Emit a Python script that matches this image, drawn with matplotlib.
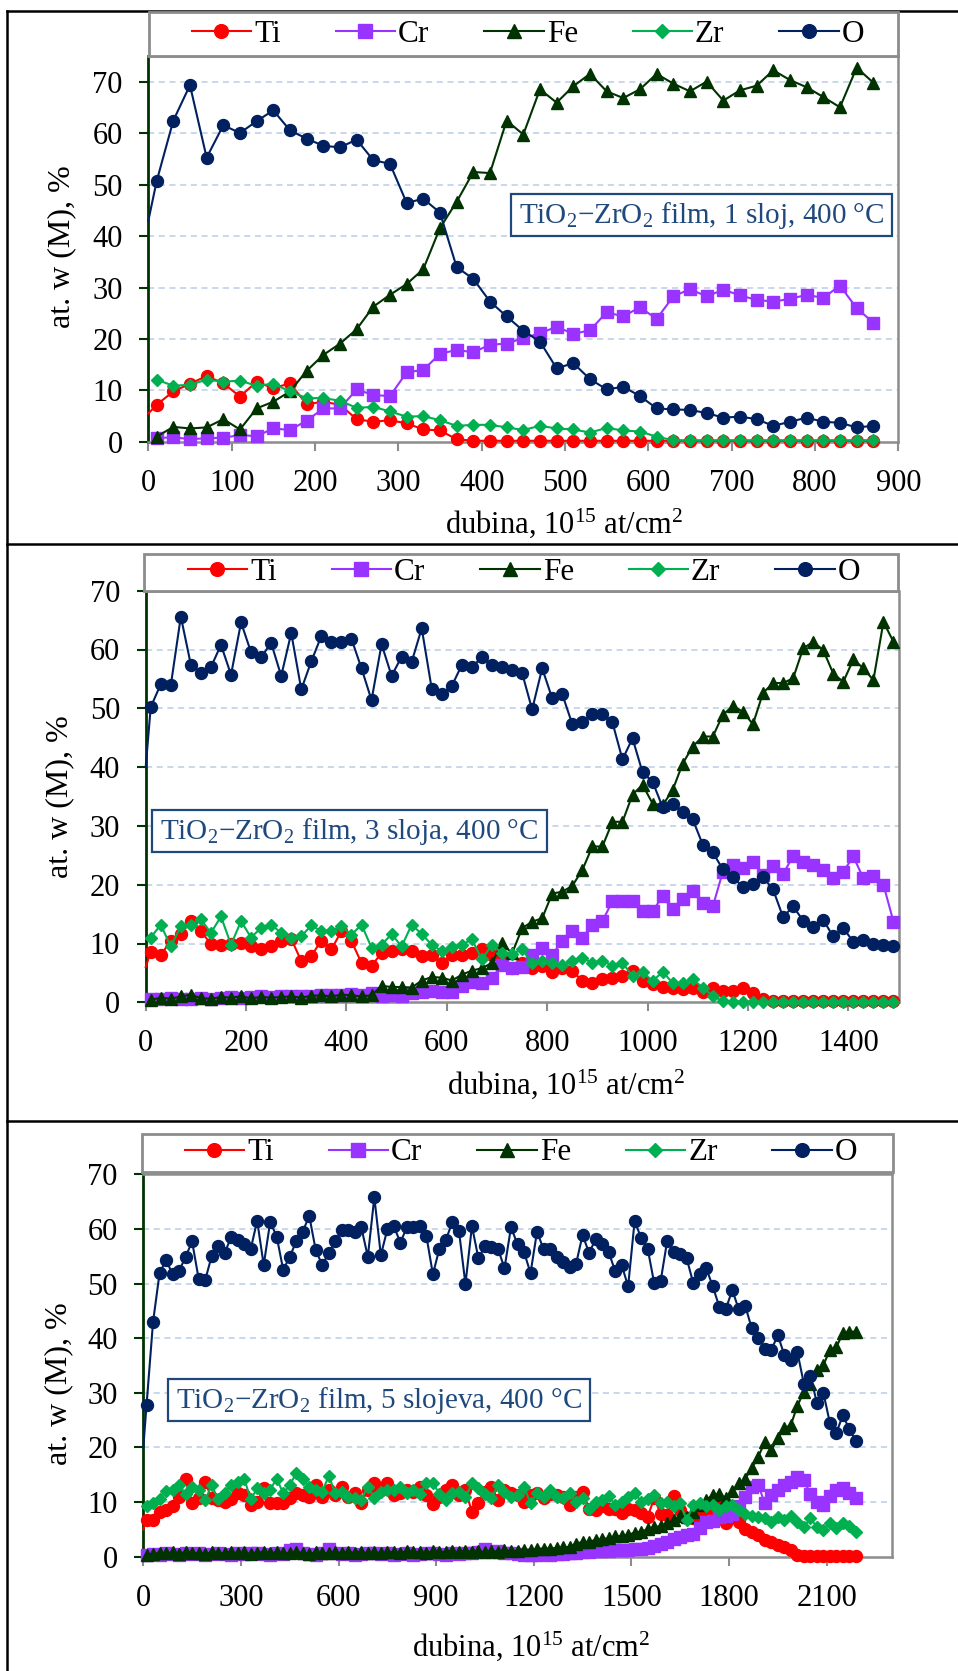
import numpy as np
import matplotlib
matplotlib.use("Agg")
import matplotlib.pyplot as plt
from matplotlib.patches import Rectangle
from matplotlib.lines import Line2D

nan = np.nan

# ---------------------------------------------------------------- data
# depth grid, 10^15 at/cm^2 (surface point at 0)
depth = [0, 10, 30, 50, 70, 90, 110, 130, 150, 170, 190, 210, 230, 250, 270, 290,
         310, 330, 350, 370, 390, 410, 430, 450, 470, 490, 510, 530, 550, 570, 590,
         610, 630, 650, 670, 690, 710, 730, 750, 770, 790, 810, 830, 850, 870, 890,
         910, 930, 950, 970, 990, 1010, 1030, 1050, 1070, 1090, 1110, 1130, 1150,
         1170, 1190, 1210, 1230, 1250, 1270, 1290, 1310, 1330, 1350, 1370, 1390,
         1410, 1430, 1450, 1470, 1490, 1510, 1530, 1550, 1570, 1590, 1610, 1630,
         1650, 1670, 1690, 1710, 1730, 1750, 1770, 1790, 1810, 1830, 1850, 1870,
         1890, 1910, 1930, 1950, 1970, 1990, 2010, 2030, 2050, 2070, 2090, 2110,
         2130, 2150, 2170, 2190]

# --- film, 1 layer
depth_1 = depth[:45]
ti_1 = [5.5, 7.2, 9.8, 11.3, 12.8, 11.4, 8.8, 11.7, 10.4, 11.4, 7.3, 7.8, 7.2, 4.4,
        3.9, 4.2, 3.6, 2.4, 2.2, 0.5, 0.2, 0.2, 0.2, 0.2, 0.2, 0.2, 0.2, 0.2, 0.2,
        0.2, 0.2, 0.2, 0.2, 0.2, 0.2, 0.2, 0.2, 0.2, 0.2, 0.2, 0.2, 0.2, 0.2, 0.2, 0.2]
cr_1 = [nan, 0.7, 0.9, 0.5, 0.7, 0.8, 1.3, 1.1, 2.6, 2.3, 4.1, 6.5, 6.5, 10.2, 9.1,
        8.9, 13.5, 14.0, 17.1, 17.9, 17.4, 18.9, 19.1, 20.2, 21.1, 22.4, 21.0, 21.7,
        25.2, 24.4, 26.2, 23.9, 28.3, 29.7, 28.3, 29.6, 28.5, 27.6, 27.3, 27.8, 28.6,
        28.0, 30.4, 26.0, 23.2]
fe_1 = [nan, 1.0, 2.9, 2.6, 2.8, 4.4, 2.4, 6.5, 7.8, 9.8, 13.8, 16.9, 19.1, 21.9,
        26.3, 28.6, 30.7, 33.6, 41.6, 46.7, 52.5, 52.3, 62.5, 59.8, 68.6, 66.0, 69.2,
        71.6, 68.2, 66.9, 68.6, 71.6, 69.7, 68.2, 70.1, 66.4, 68.4, 69.3, 72.3, 70.4,
        69.0, 67.1, 65.1, 72.8, 69.9]
zr_1 = [nan, 12.1, 10.9, 11.1, 12.1, 11.7, 11.9, 10.9, 11.3, 9.8, 8.5, 8.5, 8.0, 6.6,
        6.8, 5.9, 4.9, 5.0, 4.2, 3.1, 3.3, 3.3, 2.8, 2.3, 3.1, 2.6, 2.4, 1.8, 2.7, 2.2,
        2.0, 1.0, 0.3, 0.3, 0.3, 0.3, 0.3, 0.3, 0.3, 0.3, 0.3, 0.3, 0.3, 0.3, 0.3]
o_1 = [43.0, 50.7, 62.5, 69.4, 55.3, 61.6, 60.1, 62.4, 64.5, 60.6, 59.0, 57.6, 57.3,
       58.8, 54.8, 54.1, 46.5, 47.3, 44.6, 34.0, 31.7, 27.3, 24.4, 21.6, 19.5, 14.3,
       15.3, 12.2, 10.2, 10.7, 8.9, 6.5, 6.3, 6.2, 5.6, 4.7, 4.9, 4.4, 3.1, 3.9, 4.7,
       3.9, 3.7, 2.8, 3.1]

# --- film, 3 layers
depth_2 = depth[:76]
ti_2 = [6.0, 8.6, 8.0, 10.5, 11.6, 13.8, 12.1, 9.9, 9.8, 9.9, 10.1, 9.5, 9.0, 9.5,
        10.4, 10.8, 7.0, 7.9, 10.5, 9.0, 12.1, 10.4, 6.7, 6.2, 8.4, 8.8, 9.0, 8.7,
        7.9, 8.1, 6.7, 8.0, 8.0, 8.4, 9.0, 8.1, 7.3, 5.8, 6.7, 5.8, 6.2, 5.2, 5.8,
        5.3, 3.7, 3.3, 3.9, 4.2, 4.5, 5.4, 3.6, 3.1, 2.6, 2.4, 2.2, 2.4, 1.8, 2.4,
        1.9, 1.9, 2.5, 1.6, 0.5, 0.2, 0.2, 0.2, 0.2, 0.2, 0.2, 0.2, 0.2, 0.2, 0.2,
        0.2, 0.2, 0.2]
cr_2 = [nan, 0.6, 0.5, 0.7, 0.6, 0.5, 0.8, 0.6, 0.7, 0.9, 0.8, 0.9, 1.0, 0.9, 1.0,
        1.1, 1.0, 1.1, 1.2, 1.3, 1.2, 1.4, 1.3, 1.5, 1.0, 1.2, 1.0, 1.5, 1.8, 2.0,
        1.7, 1.8, 2.8, 3.4, 3.3, 4.2, 6.3, 5.8, 6.0, 8.1, 9.3, 8.1, 10.4, 12.1, 11.0,
        13.2, 13.8, 17.2, 17.2, 17.2, 15.5, 15.5, 18.0, 15.8, 17.5, 18.9, 16.9, 16.3,
        22.2, 23.4, 22.8, 23.9, 21.7, 23.2, 21.8, 24.9, 23.8, 23.4, 22.5, 21.1, 22.2,
        24.8, 21.1, 21.4, 20.0, 13.7]
fe_2 = [nan, 0.4, 0.8, 0.6, 1.0, 1.3, 0.7, 0.6, 0.9, 0.8, 1.0, 0.7, 0.9, 0.8, 0.9,
        1.0, 0.8, 1.1, 1.2, 1.0, 1.3, 1.2, 1.0, 1.2, 2.8, 2.6, 2.6, 2.5, 3.7, 4.3,
        4.2, 3.7, 4.7, 5.4, 5.8, 6.7, 10.1, 8.3, 12.6, 13.7, 14.3, 18.5, 18.8, 19.8,
        22.5, 26.5, 26.5, 30.7, 30.7, 35.3, 37.0, 33.8, 33.5, 36.1, 40.6, 43.5, 45.2,
        45.2, 48.9, 50.4, 49.4, 47.3, 52.6, 54.3, 54.3, 55.1, 60.2, 61.3, 59.9, 55.9,
        54.5, 58.3, 56.8, 54.8, 64.7, 61.3]
zr_2 = [nan, 11.0, 13.2, 9.5, 12.9, 13.2, 14.1, 11.8, 14.6, 9.8, 13.8, 11.0, 12.7,
        13.2, 11.8, 11.0, 11.2, 13.1, 12.1, 12.2, 12.9, 11.5, 13.2, 9.3, 9.8, 11.6,
        9.5, 13.2, 11.6, 9.8, 8.7, 9.4, 9.8, 10.7, 7.3, 9.8, 8.4, 8.2, 9.0, 6.7, 7.1,
        6.6, 6.4, 7.1, 7.6, 6.7, 7.1, 6.2, 6.7, 4.5, 5.2, 3.6, 5.2, 3.3, 3.2, 3.9,
        2.5, 1.1, 0.2, 0.1, 0.1, 0.1, 0.1, 0.1, 0.1, 0.1, 0.1, 0.1, 0.1, 0.1, 0.1,
        0.1, 0.1, 0.1, 0.1, 0.1]
o_2 = [40.0, 50.2, 54.1, 53.9, 65.6, 57.4, 56.0, 57.0, 60.8, 55.7, 64.6, 59.5, 58.7,
       61.1, 55.5, 62.8, 53.2, 58.0, 62.3, 61.3, 61.3, 61.8, 56.8, 51.4, 60.9, 55.5,
       58.8, 57.9, 63.6, 53.3, 52.4, 53.8, 57.4, 57.0, 58.7, 57.3, 57.0, 56.5, 56.0,
       49.8, 56.8, 51.7, 52.4, 47.3, 47.7, 49.0, 49.0, 47.6, 41.3, 44.9, 39.1, 37.5,
       33.2, 33.8, 32.4, 31.1, 26.8, 25.5, 22.6, 21.3, 19.6, 20.2, 21.3, 19.2, 14.5,
       16.3, 13.9, 12.8, 14.0, 11.2, 12.6, 10.3, 10.6, 9.9, 9.8, 9.5]

# --- film, 5 layers
depth_3 = depth
ti_3 = [5.0,
        6.7, 6.8, 8.2, 8.5, 9.3, 11.0, 14.2, 9.9, 10.7, 13.7,
        10.7, 10.4, 10.1, 10.5, 11.7, 11.3, 9.5, 10.1, 12.5, 9.8,
        9.9, 9.8, 10.7, 11.6, 11.3, 11.0, 13.1, 10.9, 12.2, 11.3,
        12.8, 11.0, 11.6, 9.9, 12.3, 13.4, 12.2, 13.5, 11.3, 11.6,
        12.3, 11.9, 12.8, 11.3, 9.6, 11.0, 12.2, 13.1, 11.3, 12.2,
        8.2, 9.8, 11.9, 12.8, 10.4, 12.3, 11.6, 11.3,
        10.1, 11.3, 11.6, 10.7, 11.5, 11.3, 10.9, 9.5, 11.0, 11.9,
        8.8, 8.5, 9.2, 8.8, 8.8, 8.0, 8.8, 8.5, 8.0, 7.3,
        10.7, 7.9, 7.6, 11.1, 8.5, 7.0, 7.0, 7.6, 7.3, 8.8,
        9.2, 6.1, 7.6, 6.4, 5.0, 4.6, 4.0, 3.1, 2.7, 2.1,
        1.7, 1.2, 0.3, 0.1, 0.1, 0.1, 0.1, 0.1, 0.1, 0.1, 0.1, 0.1]
cr_3 = [nan,
        0.3, 0.5, 0.4, 0.6, 0.5, 0.4, 0.7, 0.5, 0.6, 0.4,
        0.5, 0.6, 0.5, 0.4, 0.6, 0.5, 0.7, 0.6, 0.5, 0.4,
        0.6, 0.5, 1.3, 1.4, 0.6, 0.5, 0.4, 0.6, 1.5, 0.7,
        0.5, 0.6, 0.4, 0.5, 0.7, 0.6, 0.5, 0.6, 0.4, 0.5,
        0.6, 0.4, 0.5, 0.7, 0.6, 0.5, 0.4, 0.6, 0.5, 0.7,
        0.6, 0.8, 1.4, 0.9, 1.0, 0.7, 0.6, 0.5,
        0.3, 0.4, 0.3, 0.5, 0.4, 0.5, 0.5, 0.6, 0.7, 0.8,
        0.9, 1.0, 1.0, 1.1, 1.2, 1.3, 1.3, 1.4, 1.5, 1.6,
        2.0, 2.4, 2.7, 3.3, 3.6, 4.0, 4.2, 5.2, 6.3, 6.6,
        7.3, 7.4, 7.9, 9.2, 11.0, 12.8, 13.1, 9.8, 11.3, 12.2,
        13.1, 13.7, 14.6, 14.0, 11.5, 10.1, 9.5, 11.2, 12.2, 12.6,
        11.6, 10.7]
fe_3 = [nan,
        0.3, 0.5, 0.7, 0.6, 0.8, 0.5, 0.9, 0.6, 0.7, 0.5,
        0.8, 0.6, 0.7, 0.9, 0.6, 0.8, 0.5, 0.7, 0.9, 0.6,
        0.8, 0.7, 0.6, 0.9, 0.7, 0.5, 0.8, 0.6, 0.7, 0.9,
        0.6, 0.8, 0.7, 0.9, 0.6, 0.8, 0.7, 0.9, 0.8, 0.7,
        1.0, 0.8, 0.9, 0.7, 1.0, 0.8, 0.9, 1.0, 0.8, 1.1,
        0.9, 1.0, 0.8, 1.1, 0.9, 1.2, 1.0, 1.1,
        1.2, 1.3, 1.4, 1.5, 1.5, 1.6, 1.7, 1.8, 2.4, 2.7,
        2.7, 3.1, 3.2, 3.4, 3.7, 3.8, 4.0, 4.4, 4.6, 5.0,
        5.4, 5.6, 6.1, 6.7, 7.4, 7.2, 8.2, 9.5, 10.4, 11.3,
        11.5, 10.7, 12.1, 13.4, 14.3, 16.2, 18.3, 21.0, 19.5, 21.7,
        23.5, 24.1, 27.6, 30.2, 31.7, 34.2, 35.1, 37.8, 38.4, 40.9,
        41.2, 41.2]
zr_3 = [nan,
        9.2, 9.8, 10.5, 12.1, 12.2, 13.1, 11.5, 12.8, 12.2, 10.3,
        13.1, 10.5, 11.7, 13.1, 13.7, 14.3, 10.5, 12.5, 11.6, 12.3,
        14.3, 11.6, 13.1, 15.3, 14.2, 12.8, 12.2, 11.9, 14.8, 11.6,
        11.9, 11.0, 10.7, 10.4, 12.8, 10.7, 11.9, 12.2, 12.2, 12.8,
        11.6, 12.3, 11.5, 13.4, 13.5, 11.5, 10.3, 11.6, 11.9, 10.9,
        13.4, 12.5, 11.5, 10.7, 13.1, 11.9, 10.9, 11.3,
        12.8, 9.8, 11.6, 11.0, 12.3, 11.0, 10.7, 11.6, 10.1, 10.7,
        8.8, 10.1, 10.4, 11.1, 9.5, 10.1, 10.9, 11.7, 10.1, 10.5,
        11.3, 9.8, 10.1, 9.2, 9.8, 6.7, 9.5, 9.8, 9.2, 9.5,
        8.5, 9.2, 9.5, 8.5, 7.8, 7.4, 7.3, 7.0, 6.4, 7.3,
        6.7, 7.4, 6.4, 5.4, 7.0, 5.5, 4.8, 6.2, 5.2, 6.1,
        5.6, 4.6]
o_3 = [20.0,
       27.8, 43.0, 51.9, 54.3, 51.7, 52.3, 54.9, 57.7, 50.9, 50.6,
       55.0, 56.9, 55.6, 58.5, 58.0, 57.2, 56.3, 61.5, 53.4, 61.3,
       58.6, 52.5, 54.9, 57.7, 59.5, 62.4, 56.1, 53.4, 55.6, 57.7,
       59.8, 59.8, 59.5, 60.3, 54.9, 65.8, 55.2, 59.9, 60.5, 57.5,
       60.3, 60.3, 60.5, 58.7, 51.7, 56.4, 58.0, 61.3, 59.7, 49.9,
       60.5, 54.6, 56.9, 56.7, 56.4, 52.8, 60.3, 57.2,
       55.8, 51.9, 59.5, 56.3, 56.4, 54.8, 54.0, 53.0, 53.6, 58.9,
       55.6, 58.1, 57.2, 55.8, 52.3, 53.4, 49.5, 61.5, 58.3, 56.4,
       50.1, 50.5, 57.8, 55.8, 55.5, 54.6, 50.1, 51.7, 52.8, 49.5,
       45.8, 45.3, 48.8, 45.3, 45.9, 41.8, 40.0, 38.1, 37.8, 40.6,
       36.9, 36.0, 37.5, 31.7, 33.1, 28.2, 30.0, 24.5, 22.7, 25.9,
       23.3, 21.2]

elements = ["Ti", "Cr", "Fe", "Zr", "O"]
film_labels = ["TiO$_\\mathregular{2}$\u2212ZrO$_\\mathregular{2}$ film, 1 sloj, 400 °C",
               "TiO$_\\mathregular{2}$\u2212ZrO$_\\mathregular{2}$ film, 3 sloja, 400 °C",
               "TiO$_\\mathregular{2}$\u2212ZrO$_\\mathregular{2}$ film, 5 slojeva, 400 °C"]
x_ticks_1 = [0, 100, 200, 300, 400, 500, 600, 700, 800, 900]
x_ticks_2 = [0, 200, 400, 600, 800, 1000, 1200, 1400]
x_ticks_3 = [0, 300, 600, 900, 1200, 1500, 1800, 2100]
y_ticks = [0, 10, 20, 30, 40, 50, 60, 70]

# ---------------------------------------------------------------- style
W, H, DPI = 958, 1671, 100
plt.rcParams['font.family'] = ['Liberation Serif', 'DejaVu Serif']
plt.rcParams['mathtext.fontset'] = 'custom'
plt.rcParams['mathtext.rm'] = 'Liberation Serif'
plt.rcParams['mathtext.it'] = 'Liberation Serif:italic'
plt.rcParams['axes.unicode_minus'] = False

FS = 22            # tick labels and axis titles
FS_LEG = 22.5      # legend entries
FS_BOX = 21        # film description
TEXT_BLUE = '#1F497D'
GRID = '#B9CDE5'
FRAME_GRAY = '#8C8C8C'
STYLES = {
    "Ti": dict(color='#FF0000', marker='o', ms=8.6),
    "Cr": dict(color='#9933FF', marker='s', ms=8.4),
    "Fe": dict(color='#003300', marker='^', ms=9.0),
    "Zr": dict(color='#00B050', marker='D', ms=6.4),
    "O":  dict(color='#002060', marker='o', ms=8.6),
}

fig = plt.figure(figsize=(W / DPI, H / DPI), dpi=DPI)
fig.patch.set_facecolor('white')


def fx(px):
    return px / W


def fy(py):
    return 1 - py / H


def panel(depth_x, series, xmax, xticks, ymax, box, legend_box, legend_cx,
          label_box, label_text, ylab_xy, xlab_xy):
    left, right, top, bottom = box
    ax = fig.add_axes([fx(left), fy(bottom), fx(right) - fx(left), (bottom - top) / H])
    ax.set_xlim(0, xmax)
    ax.set_ylim(0, ymax)
    ax.set_xticks(xticks)
    ax.set_yticks(y_ticks)
    ax.set_xticklabels([str(t) for t in xticks], fontsize=FS)
    ax.set_yticklabels([str(t) for t in y_ticks], fontsize=FS)
    for t in y_ticks[1:]:
        ax.axhline(t, color=GRID, lw=1.1, ls=(0, (4, 3)), zorder=1)

    for sp in ('top', 'right', 'bottom'):
        ax.spines[sp].set_color(FRAME_GRAY)
        ax.spines[sp].set_linewidth(1.8)
    ax.spines['left'].set_color('#003300')
    ax.spines['left'].set_linewidth(2.0)
    ax.tick_params(axis='x', direction='out', length=6.5, width=1.5,
                   color=FRAME_GRAY, pad=13)
    ax.tick_params(axis='y', direction='out', length=6.5, width=1.5,
                   color='#003300', pad=12)

    handles = []
    for name, vals in zip(elements, series):
        st = STYLES[name]
        ax.plot(depth_x, vals, color=st['color'], lw=1.5, marker=st['marker'],
                ms=st['ms'], mfc=st['color'], mec=st['color'], mew=1.0,
                markevery=slice(1, None), clip_on=False, zorder=4)
        handles.append(Line2D([0], [0], color=st['color'], lw=1.5, marker=st['marker'],
                              ms=st['ms'] * 1.15, mfc=st['color'], mec=st['color']))

    # legend strip above the plot area
    lx0, lx1, ly0, ly1 = legend_box
    fig.add_artist(Rectangle((fx(lx0), fy(ly1)), fx(lx1) - fx(lx0), (ly1 - ly0) / H,
                             transform=fig.transFigure, facecolor='white',
                             edgecolor=FRAME_GRAY, lw=2.0, zorder=5))
    leg = fig.legend(handles, elements, loc='center',
                     bbox_to_anchor=(fx(legend_cx), fy((ly0 + ly1) / 2)),
                     ncol=5, frameon=False, fontsize=FS_LEG, handlelength=1.9,
                     handletextpad=0.1, columnspacing=1.75, borderpad=0)
    leg.set_zorder(6)

    # film description box
    bx0, bx1, by0, by1 = label_box
    fig.add_artist(Rectangle((fx(bx0), fy(by1)), fx(bx1) - fx(bx0), (by1 - by0) / H,
                             transform=fig.transFigure, facecolor='white',
                             edgecolor=TEXT_BLUE, lw=1.6, zorder=7))
    fig.text(fx((bx0 + bx1) / 2), fy((by0 + by1) / 2 + 1), label_text,
             ha='center', va='center', fontsize=FS_BOX, color=TEXT_BLUE, zorder=8)

    fig.text(fx(ylab_xy[0]), fy(ylab_xy[1]), 'at. w (M), %', rotation=90,
             ha='center', va='center', fontsize=FS + 1)
    fig.text(fx(xlab_xy[0]), fy(xlab_xy[1]),
             'dubina, 10$^\\mathregular{15}$ at/cm$^\\mathregular{2}$',
             ha='center', va='center', fontsize=FS)
    return ax


panel(depth_1, [ti_1, cr_1, fe_1, zr_1, o_1], 900, x_ticks_1, 75,
      (148.3, 898.3, 56.4, 441.8), (148.5, 898.0, 11.8, 56.4), 528,
      (510.7, 892.0, 194.0, 235.7), film_labels[0], (62, 247), (564, 523))

panel(depth_2, [ti_2, cr_2, fe_2, zr_2, o_2], 1500, x_ticks_2, 70,
      (145.7, 898.5, 590.7, 1002.3), (144.0, 897.7, 554.0, 590.7), 524,
      (152.3, 546.7, 810.0, 851.7), film_labels[1], (60, 797), (566, 1084))

panel(depth_3, [ti_3, cr_3, fe_3, zr_3, o_3], 2300, x_ticks_3, 70,
      (143.3, 891.7, 1174.3, 1556.7), (141.7, 892.7, 1134.0, 1172.0), 521,
      (167.7, 590.0, 1378.7, 1421.0), film_labels[2], (59, 1384), (531, 1646))

# table rules separating the three charts
for y in (10.7, 544.0, 1121.0):
    fig.add_artist(Line2D([fx(7), 1.0], [fy(y), fy(y)], transform=fig.transFigure,
                          color='black', lw=1.8, zorder=0))
fig.add_artist(Line2D([fx(7), fx(7)], [fy(10.7), 0.0], transform=fig.transFigure,
                      color='black', lw=1.8, zorder=0))

fig.savefig('out.png', dpi=DPI, facecolor='white')
